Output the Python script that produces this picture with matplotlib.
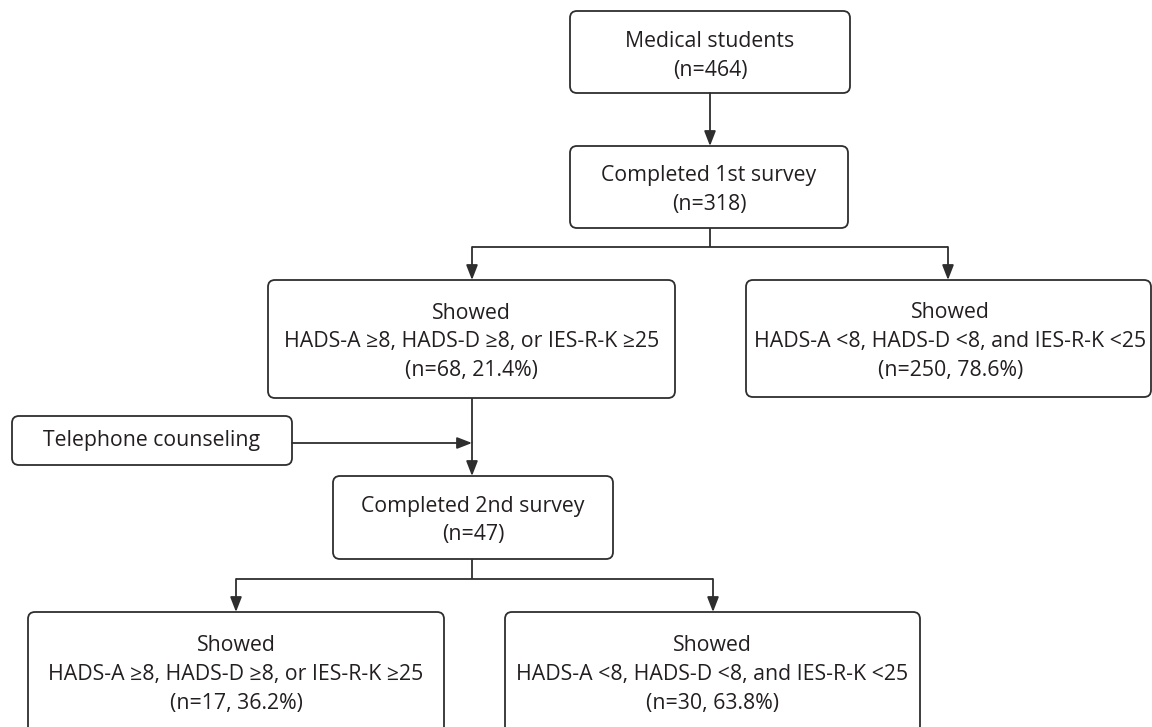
import matplotlib.pyplot as plt
from matplotlib.patches import FancyBboxPatch

plt.rcParams['font.family'] = ['Open Sans', 'DejaVu Sans']

labels = [
    'Medical students\n(n=464)',
    'Completed 1st survey\n(n=318)',
    'Showed\nHADS-A \u22658, HADS-D \u22658, or IES-R-K \u226525\n(n=68, 21.4%)',
    'Showed\nHADS-A <8, HADS-D <8, and IES-R-K <25\n(n=250, 78.6%)',
    'Telephone counseling',
    'Completed 2nd survey\n(n=47)',
    'Showed\nHADS-A \u22658, HADS-D \u22658, or IES-R-K \u226525\n(n=17, 36.2%)',
    'Showed\nHADS-A <8, HADS-D <8, and IES-R-K <25\n(n=30, 63.8%)',
]
# box geometry in pixels: x0, y0, x1, y1 (y from top)
boxes = [
    (570, 11, 850, 93),
    (570, 146, 848, 228),
    (268, 280, 675, 398),
    (746, 280, 1151, 397),
    (12, 416, 292, 465),
    (333, 476, 613, 559),
    (28, 612, 444, 733),
    (505, 612, 920, 733),
]
# small nudges of the text inside each box (dx, dy)
nudge = [(0, 4), (0, 3), (0, 3), (2, 3), (0, 0), (0, 3), (0, 2), (0, 2)]

fig = plt.figure(figsize=(11.52, 7.27), dpi=100)
ax = fig.add_axes([0, 0, 1, 1])
ax.set_xlim(0, 1152)
ax.set_ylim(727, 0)
ax.axis('off')

ec = '#2e2e2e'
for (x0, y0, x1, y1), txt, (dx, dy) in zip(boxes, labels, nudge):
    r = 7
    p = FancyBboxPatch((x0 + r, y0 + r), x1 - x0 - 2 * r, y1 - y0 - 2 * r,
                       boxstyle='round,pad=%d' % r, fc='white', ec=ec, lw=1.3)
    ax.add_patch(p)
    ax.text((x0 + x1) / 2 + dx, (y0 + y1) / 2 + dy, txt, ha='center', va='center',
            fontsize=15.3, color='#231f20', linespacing=1.48)

def line(xs, ys):
    ax.plot(xs, ys, color=ec, lw=1.3, solid_capstyle='butt')

def arrow(x0, y0, x1, y1):
    ax.annotate('', xy=(x1, y1), xytext=(x0, y0),
                arrowprops=dict(arrowstyle='-|>,head_length=0.9,head_width=0.35',
                                color=ec, lw=1.3, shrinkA=0, shrinkB=0))

arrow(710, 93, 710, 146)
line([710, 710], [228, 247])
line([472, 948], [247, 247])
arrow(472, 247, 472, 280)
arrow(948, 247, 948, 280)
line([472, 472], [398, 443])
arrow(292, 443, 472, 443)
arrow(472, 443, 472, 476)
line([472, 472], [559, 579])
line([236, 713], [579, 579])
arrow(236, 579, 236, 612)
arrow(713, 579, 713, 612)

fig.savefig('out.png', dpi=100)
